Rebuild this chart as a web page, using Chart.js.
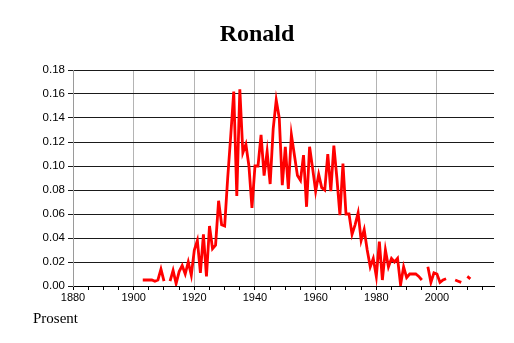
<!DOCTYPE html>
<html><head><meta charset="utf-8">
<script src="https://cdn.jsdelivr.net/npm/chart.js@4/dist/chart.umd.min.js"></script>
<style>
html,body{margin:0;padding:0;background:#fff;}
#wrap{position:relative;width:514px;height:343px;}
#note{position:absolute;left:33px;top:309px;font-family:'Liberation Serif';font-size:15px;color:#000;line-height:18px;}
</style></head><body>
<div id="wrap"><canvas id="c" width="514" height="343"></canvas><div id="note">Prosent</div></div>
<script>
const chartTitle = 'Ronald';
const years = [
1903,1904,1905,1906,1907,1908,1909,1910,1911,1912,1913,1914,1915,1916,1917,1918,1919,1920,
1921,1922,1923,1924,1925,1926,1927,1928,1929,1930,1931,1932,1933,1934,1935,1936,1937,1938,1939,1940,
1941,1942,1943,1944,1945,1946,1947,1948,1949,1950,1951,1952,1953,1954,1955,1956,1957,1958,1959,1960,
1961,1962,1963,1964,1965,1966,1967,1968,1969,1970,1971,1972,1973,1974,1975,1976,1977,1978,1979,1980,
1981,1982,1983,1984,1985,1986,1987,1988,1989,1990,1991,1992,1993,1994,1995,1996,1997,1998,1999,2000,
2001,2002,2003,2004,2005,2006,2007,2008,2009,2010,2011];
const percent = [
0.005,0.005,0.005,0.005,0.004,0.005,0.014,0.004,null,0.004,0.013,0.002,0.012,0.017,0.010,0.020,0.009,0.030,
0.038,0.011,0.043,0.008,0.050,0.031,0.034,0.071,0.051,0.050,0.090,0.125,0.162,0.075,0.164,0.111,0.118,0.100,0.065,0.100,
0.100,0.126,0.092,0.112,0.085,0.131,0.155,0.140,0.084,0.116,0.081,0.126,0.109,0.092,0.088,0.109,0.066,0.116,0.098,0.079,
0.093,0.082,0.080,0.110,0.079,0.117,0.090,0.059,0.102,0.060,0.060,0.043,0.051,0.061,0.038,0.047,0.030,0.016,0.023,0.008,
0.037,0.005,0.030,0.016,0.023,0.020,0.023,0.001,0.016,0.007,0.010,0.010,0.010,0.008,0.005,null,0.016,0.003,0.011,0.010,
0.003,0.005,0.006,null,null,0.005,0.004,0.003,null,0.008,0.006];
const xLabelYears = [1880,1900,1920,1940,1960,1980,2000];
const yTicks = [0,0.02,0.04,0.06,0.08,0.10,0.12,0.14,0.16,0.18];

new Chart(document.getElementById('c'), {
  type: 'line',
  data: {
    datasets: [{
      data: years.map((yr, i) => ({x: yr, y: percent[i]})),
      borderColor: '#ff0000',
      borderWidth: 2.8,
      pointRadius: 0,
      fill: false,
      tension: 0,
      spanGaps: false
    }]
  },
  options: {
    responsive: false,
    animation: false,
    devicePixelRatio: 1,
    layout: {padding: 0},
    plugins: {
      legend: {display: false},
      tooltip: {enabled: false},
      title: {
        display: true, text: chartTitle, color: '#000',
        font: {family: 'Liberation Serif', size: 24, weight: 'bold'},
        padding: {top: 20, bottom: 21.2}
      }
    },
    scales: {
      x: {
        type: 'linear', min: 1880, max: 2018.8,
        ticks: {
          stepSize: 5, includeBounds: false, autoSkip: false, maxRotation: 0, padding: 1,
          color: '#000', font: {family: 'Liberation Sans', size: 11},
          callback: v => xLabelYears.includes(v) ? String(v) : ''
        },
        grid: {
          color: c => (c.tick && c.tick.value % 20 === 0 && c.tick.value !== 1880) ? '#b4b4b4' : 'rgba(0,0,0,0)',
          tickColor: '#000', tickLength: 4, lineWidth: 1
        },
        border: {color: '#000', width: 1},
        afterFit: s => { s.height = 57; }
      },
      y: {
        min: 0, max: 0.18,
        afterBuildTicks: s => { s.ticks = yTicks.map(v => ({value: v})); },
        ticks: {
          padding: 3, color: '#000', font: {family: 'Liberation Sans', size: 11.5},
          callback: v => Number(v).toFixed(2)
        },
        grid: {color: '#1a1a1a', tickColor: '#1a1a1a', tickLength: 5, lineWidth: 1},
        border: {color: '#9a9a9a', width: 1},
        afterFit: s => { s.width = 73; }
      },
      yRight: {
        position: 'right', min: 0, max: 1,
        ticks: {display: false},
        grid: {drawOnChartArea: false, drawTicks: false},
        border: {display: false},
        afterFit: s => { s.width = 20; }
      }
    }
  }
});
</script>
</body></html>
